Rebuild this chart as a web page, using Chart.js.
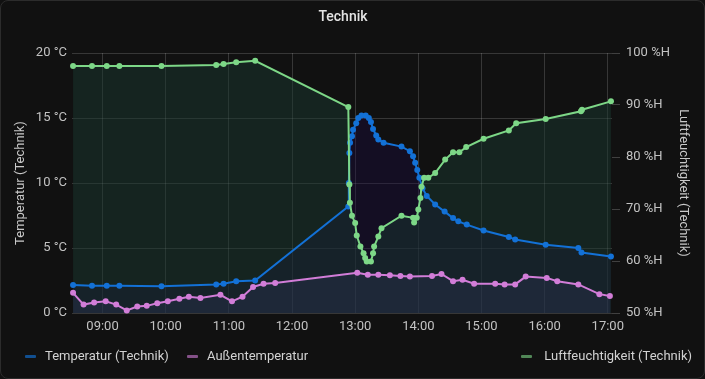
<!DOCTYPE html>
<html>
<head>
<meta charset="utf-8">
<script src="https://cdn.jsdelivr.net/npm/chart.js@4.4.1/dist/chart.umd.min.js"></script>
<style>
  html, body { margin: 0; padding: 0; background: #111111; width: 705px; height: 379px; overflow: hidden; }
  #wrap { position: absolute; left: 0; top: 0; width: 705px; height: 379px; }
  #c { position: absolute; left: 0; top: 0; }
  #frame { position: absolute; left: 0; top: 0; width: 703px; height: 377px; border: 1px solid #2c2c2c; border-radius: 8px; pointer-events: none; }
  #title { position: absolute; top: 8px; left: 0; width: 686px; text-align: center; font: 500 14px Roboto, "Noto Sans", sans-serif; color: #e3e3e3; }
  .lg { position: absolute; top: 348px; font: 13px Roboto, "Noto Sans", sans-serif; color: #d2d2d2; white-space: nowrap; line-height: 16px; }
  .mk { position: absolute; top: 355px; width: 11px; height: 3px; border-radius: 1px; }
</style>
</head>
<body>
<div id="wrap">
  <canvas id="c" width="705" height="379"></canvas>
  <div id="title">Technik</div>
  <div class="mk" style="left:25px;background:rgba(19,113,214,0.65)"></div>
  <div class="lg" style="left:45px">Temperatur (Technik)</div>
  <div class="mk" style="left:187px;background:rgba(210,125,216,0.6)"></div>
  <div class="lg" style="left:207px">Außentemperatur</div>
  <div class="mk" style="left:521px;background:rgba(125,215,135,0.6)"></div>
  <div class="lg" style="right:13px">Luftfeuchtigkeit (Technik)</div>
  <div id="frame"></div>
</div>
<script>
// ---- data (times as HH:MM[:SS]) ----
const tempTechnikTimes = ["08:32","08:50","09:04","09:16","09:56","10:48","10:55","11:07","11:25",
  "12:53:30","12:54","12:54:30","12:55:10","12:57","12:58","13:01","13:03","13:06","13:10","13:13","13:15",
  "13:17","13:20","13:22","13:27","13:44","13:52","13:55","13:57","13:59","14:01","14:04","14:08","14:16",
  "14:25","14:33","14:38","14:46","15:02","15:26","15:32","16:01","16:32","16:35","17:03"];
const tempTechnik = [2.15,2.1,2.1,2.1,2.05,2.2,2.25,2.45,2.5,
  8.2,10.0,12.3,13.1,13.6,14.1,14.6,15.0,15.2,15.2,15.0,14.7,
  14.15,13.65,13.35,13.1,12.8,12.45,12.05,11.55,11.0,10.4,9.6,9.0,8.35,
  7.8,7.3,7.05,6.8,6.35,5.85,5.65,5.25,5.0,4.65,4.35];

const aussenTimes = ["08:32","08:42","08:52","09:03","09:13","09:23","09:33","09:42","09:52","10:02",
  "10:13","10:22","10:33","10:52","11:03","11:13","11:23","11:33","11:44","13:02","13:12","13:22","13:33",
  "13:43","13:52","14:13","14:22","14:33","14:42","14:53","15:13","15:22","15:32","15:42","16:02","16:12",
  "16:32","16:52","17:02"];
const aussenTemp = [1.55,0.65,0.8,0.9,0.65,0.2,0.5,0.55,0.75,0.9,
  1.1,1.25,1.15,1.4,0.9,1.25,2.0,2.25,2.3,3.1,2.95,2.95,2.9,
  2.85,2.8,2.85,3.0,2.45,2.55,2.25,2.25,2.2,2.2,2.8,2.7,2.45,
  2.2,1.45,1.3];

const humTimes = ["08:32","08:50","09:04","09:16","09:56","10:48","10:55","11:07","11:25",
  "12:53:30","12:54:30","12:55","12:57","13:00","13:01:30","13:05","13:08","13:09:30","13:11","13:15",
  "13:17","13:18","13:22","13:25","13:44","13:55","13:56","13:58:30","14:00","14:02","14:03","14:05:30",
  "14:09:30","14:16","14:25:30","14:33","14:39","14:45:30","15:02","15:26","15:33","16:01","16:34:30",
  "16:35:30","17:03"];
const humidity = [97.5,97.5,97.5,97.5,97.5,97.7,97.9,98.2,98.5,
  89.6,74.7,71.2,68.7,67.3,64.9,62.8,61.5,60.6,59.9,59.9,
  61.5,62.8,64.7,66.3,68.7,68.3,67.4,68.3,69.9,72.1,74.3,76.0,
  76.0,76.9,79.5,80.9,80.9,81.9,83.5,85.1,86.5,87.3,88.8,
  89.1,90.7];

const hourTickLabels = ["09:00","10:00","11:00","12:00","13:00","14:00","15:00","16:00","17:00"];
const xRange = ["08:31","17:04"];

// ---- helpers ----
function toMin(s) { const p = s.split(":").map(Number); return p[0]*60 + p[1] + (p[2]||0)/60; }
function fmt(m) { const h = Math.floor(m/60), mm = Math.round(m - h*60); return String(h).padStart(2,"0")+":"+String(mm).padStart(2,"0"); }
function pts(times, vals) { return times.map((t,i) => ({x: toMin(t), y: vals[i]})); }

const BLUE = "#1371d6", PINK = "#d27dd8", GREEN = "#7dd787";
const GRID = "rgba(255,255,255,0.16)";
const TICK = "#c2c2c2";
const FONT = {family: "Roboto, 'Noto Sans', sans-serif", size: 13};

function ds(label, data, color, fillColor, axis, order) {
  return { label, data, yAxisID: axis, order, borderColor: color, backgroundColor: fillColor,
    pointBackgroundColor: color, pointBorderColor: color, pointRadius: 3, pointBorderWidth: 0,
    borderWidth: 2, fill: "start", tension: 0, clip: false };
}

new Chart(document.getElementById("c"), {
  type: "line",
  data: { datasets: [
    ds("Temperatur (Technik)", pts(tempTechnikTimes, tempTechnik), BLUE, "rgba(25,10,70,0.35)", "y", 3),
    ds("Außentemperatur", pts(aussenTimes, aussenTemp), PINK, "rgba(80,80,150,0.15)", "y", 1),
    ds("Luftfeuchtigkeit (Technik)", pts(humTimes, humidity), GREEN, "rgba(25,55,48,0.5)", "y1", 2)
  ]},
  options: {
    responsive: false, animation: false,
    layout: { padding: { top: 53, left: 0, right: 0, bottom: 0 } },
    plugins: { legend: { display: false }, tooltip: { enabled: false }, filler: { drawTime: "beforeDatasetsDraw" } },
    scales: {
      x: {
        type: "linear", min: toMin(xRange[0]), max: toMin(xRange[1]),
        afterBuildTicks: s => { s.ticks = hourTickLabels.map(l => ({ value: toMin(l) })); },
        afterFit: s => { s.height = 66; },
        ticks: { callback: v => fmt(v), color: TICK, font: FONT, padding: 6, maxRotation: 0, autoSkip: false },
        grid: { color: GRID, drawTicks: false }, border: { display: false }
      },
      y: {
        position: "left", min: 0, max: 20,
        afterFit: s => { s.width = 72; },
        ticks: { stepSize: 5, callback: v => v + " °C", color: TICK, font: FONT, padding: 5 },
        title: { display: true, text: "Temperatur (Technik)", color: "#c8c8c8", font: FONT, padding: { top: 13, bottom: 0 } },
        grid: { color: GRID, drawTicks: false }, border: { display: false }
      },
      y1: {
        position: "right", min: 50, max: 100,
        afterFit: s => { s.width = 93; },
        ticks: { stepSize: 10, callback: v => v + " %H", color: TICK, font: FONT, padding: 6 },
        title: { display: true, text: "Luftfeuchtigkeit (Technik)", color: "#c8c8c8", font: FONT, padding: { top: 14, bottom: 0 } },
        grid: { drawOnChartArea: false, drawTicks: true, tickLength: 8, color: "rgba(255,255,255,0.2)" }, border: { display: false }
      }
    }
  }
});
</script>
</body>
</html>
